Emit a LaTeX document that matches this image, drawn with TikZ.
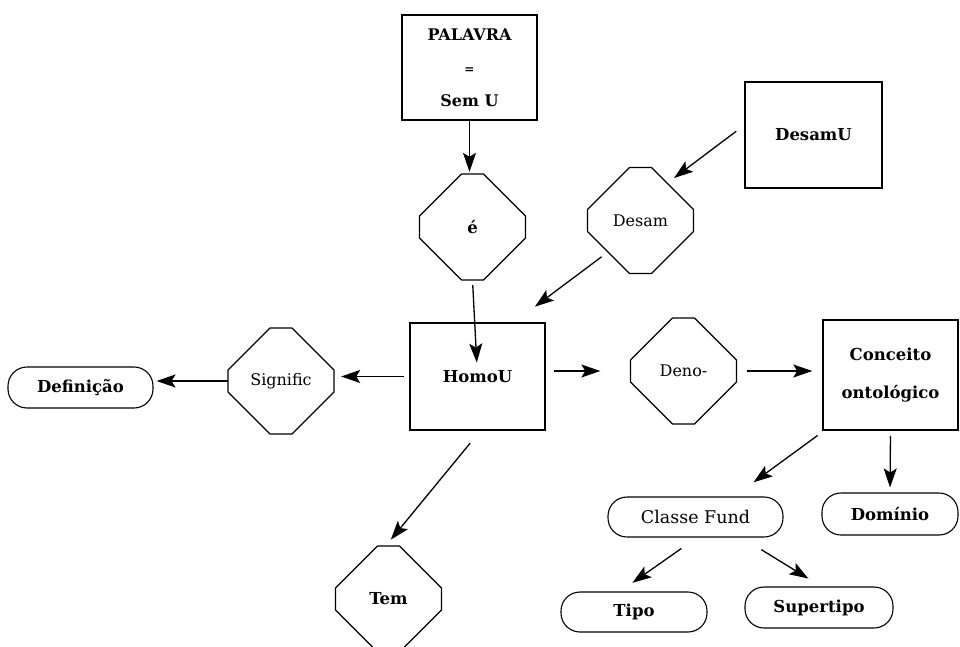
\documentclass[tikz,border=0pt]{standalone}
\usepackage{fontspec}
\setmainfont{DejaVu Serif}
\usetikzlibrary{arrows.meta,calc}
\newcommand\octagonnode[5]{%
  \node[octtext,#5] (#1) at (#2,#3) {#4};
  \draw[octline] ($(#1)+(-11,-53)$) -- ($(#1)+(11,-53)$) -- ($(#1)+(53,-11)$) -- ($(#1)+(53,11)$)
    -- ($(#1)+(11,53)$) -- ($(#1)+(-11,53)$) -- ($(#1)+(-53,11)$) -- ($(#1)+(-53,-11)$) -- cycle;}
\begin{document}
\begin{tikzpicture}[x=1pt,y=-1pt,
  boldtxt/.style={font=\bfseries\fontsize{16.5}{19}\selectfont},
  regtxt/.style={font=\fontsize{16}{19}\selectfont},
  sqbox/.style={draw,line width=1.5pt,inner sep=0pt,boldtxt,align=center},
  pill/.style={draw,line width=1.1pt,rounded corners=19pt,inner sep=0pt},
  octtext/.style={circle,minimum size=106pt,inner sep=0pt},
  octline/.style={line width=1.2pt,line join=round},
  conn/.style={line width=1.3pt,-{Stealth[length=19pt,width=13pt,inset=4pt]}}]

\useasboundingbox (0,0) rectangle (960,647);
\clip (0,0) rectangle (960,647);

% boxes
\node[sqbox,minimum width=135pt,minimum height=105pt,font=\bfseries\fontsize{16}{33}\selectfont] (palavra) at (469.5,67.5) {PALAVRA\\{\fontsize{12}{33}\selectfont =}\\Sem U};
\node[sqbox,minimum width=137pt,minimum height=106pt] (desamU) at (813.5,135) {DesamU};
\node[sqbox,minimum width=135pt,minimum height=107pt] (homoU) at (477.5,376.5) {HomoU};
\node[sqbox,minimum width=135pt,minimum height=110pt,font=\bfseries\fontsize{16.5}{38}\selectfont] (conceito) at (890.5,375) {Conceito\\ontológico};

% rounded nodes
\node[pill,boldtxt,minimum width=145pt,minimum height=41pt] (definicao) at (80.5,387.5) {Definição};
\node[pill,regtxt,font=\fontsize{17.5}{20}\selectfont,minimum width=175pt,minimum height=40pt] (classe) at (695.5,517) {Classe Fund};
\node[pill,boldtxt,minimum width=136pt,minimum height=42pt] (dominio) at (890,514) {Domínio};
\node[pill,boldtxt,minimum width=146pt,minimum height=40pt] (tipo) at (634,612) {Tipo};
\node[pill,boldtxt,minimum width=148pt,minimum height=41pt] (supertipo) at (819,607.5) {Supertipo};

% octagons
\octagonnode{e}{472.5}{227}{é}{boldtxt}
\octagonnode{desam}{640.5}{220.5}{Desam}{regtxt}
\octagonnode{signific}{281}{381}{Signific}{regtxt}
\octagonnode{deno}{683.5}{371}{Deno-}{regtxt}
\octagonnode{tem}{388.5}{599}{Tem}{boldtxt}

% connectors
\draw[conn,shorten >=2pt] (palavra.south) -- (palavra.south |- e.north);
\draw[conn,shorten <=5pt,shorten >=14pt] (e.south) -- (homoU.center);
\draw[conn,shorten <=10pt,shorten >=1pt] (desamU.172) -- (desam.52);
\draw[conn,shorten >=26pt] (desam.223) -- (homoU.56);
\draw[conn,shorten <=5pt,shorten >=7pt] (homoU.west) -- (homoU.west -| signific.east);
\draw[conn,shorten >=3pt] (signific.west) -- (signific.west -| definicao.east);
\draw[conn,shorten <=8pt,shorten >=30pt] (homoU.east |- deno.west) -- (deno.west);
\draw[conn,shorten <=10pt,shorten >=10pt] (deno.east) -- (deno.east -| conceito.west);
\draw[conn,shorten <=16pt,shorten >=8pt] (homoU.273) -- (tem.93);
\draw[conn,shorten <=8pt,shorten >=24pt] (conceito.220) -- (classe.28);
\draw[conn,shorten <=5pt,shorten >=5pt] (conceito.south) -- (dominio.north);
\draw[conn,shorten <=19pt,shorten >=15pt] (classe.274) -- (tipo.124);
\draw[conn,shorten <=23pt,shorten >=15pt] (classe.336) -- (supertipo.84);
\end{tikzpicture}
\end{document}
